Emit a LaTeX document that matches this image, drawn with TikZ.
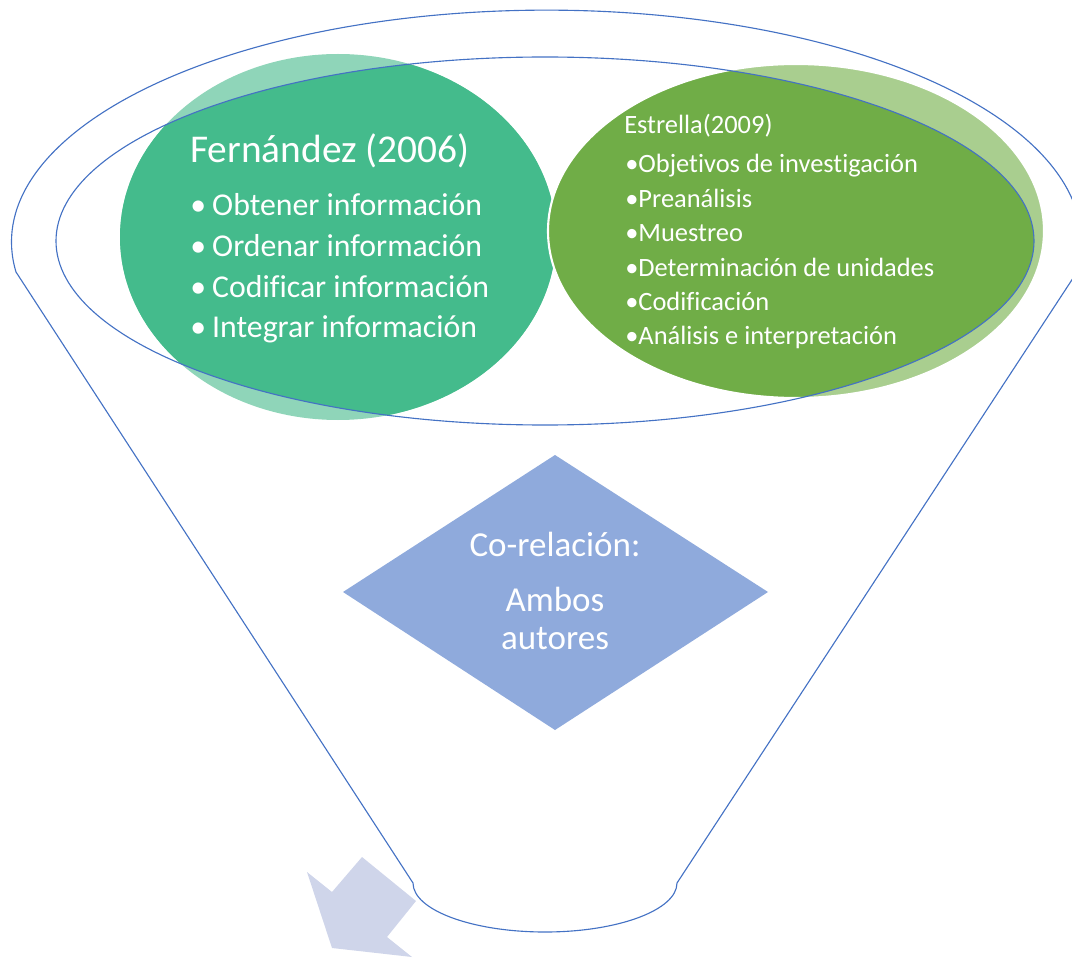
\documentclass[tikz,border=0pt]{standalone}
\usepackage{fontspec}
\setmainfont[Ligatures=NoCommon]{Carlito}
\definecolor{tealdark}{RGB}{68,187,140}
\definecolor{teallight}{RGB}{143,213,185}
\definecolor{greendark}{RGB}{112,173,71}
\definecolor{greenlight}{RGB}{169,206,143}
\definecolor{diamondblue}{RGB}{143,170,220}
\definecolor{arrowblue}{RGB}{207,213,234}
\definecolor{lineblue}{RGB}{68,114,196}
\begin{document}
\begin{tikzpicture}[x=0.025cm, y=-0.025cm,
	funnel/.style={draw=lineblue, line width=0.8pt},
	author/.style={anchor=base west, inner sep=0, text=white, font=\fontsize{28}{34}\selectfont},
	leftitem/.style={anchor=base west, inner sep=0, text=white, font=\fontsize{22.6}{27}\selectfont},
	rightitem/.style={anchor=base west, inner sep=0, text=white, font=\fontsize{18.8}{23}\selectfont},
	middle/.style={anchor=base, inner sep=0, text=white, font=\fontsize{24.9}{30}\selectfont}]
	\useasboundingbox (0,0) rectangle (1072,958);
	% Fernandez
	\fill[teallight] (338,237) ellipse [x radius=218, y radius=183];
	\begin{scope}
		\clip (545,241) ellipse [x radius=489, y radius=184];
		\fill[tealdark] (338,237) ellipse [x radius=218, y radius=183];
	\end{scope}
	% Estrella
	\fill[greenlight] (796,231) ellipse [x radius=248, y radius=167];
	\begin{scope}
		\clip (545,241) ellipse [x radius=489, y radius=184];
		\fill[greendark] (796,231) ellipse [x radius=248, y radius=167];
	\end{scope}
	\draw[white, line width=1.5pt] (796,231) ellipse [x radius=248, y radius=167];
	% funnel
	\draw[funnel] (545,241) ellipse [x radius=489, y radius=184];
	\draw[funnel] (16,272) arc[start angle=172.6, end angle=367.4, x radius=535, y radius=232]
		-- (677,883) arc[start angle=0, end angle=180, x radius=132, y radius=49] -- cycle;
	% co-relacion
	\fill[diamondblue] (555,455) -- (768,592) -- (555,730) -- (343,592) -- cycle;
	\fill[arrowblue] (307,872) -- (332,892) -- (362,857) -- (416,901) -- (387,937) -- (412,957) -- (332,948) -- cycle;

	\node[author] (F) at (190,163) {Fernández (2006)};
	\node[leftitem] (F1) at (190,216) {\makebox[15.6pt][l]{•}Obtener información};
	\node[leftitem] (F2) at (190,257) {\makebox[15.6pt][l]{•}Ordenar información};
	\node[leftitem] (F3) at (190,298) {\makebox[15.6pt][l]{•}Codificar información};
	\node[leftitem] (F4) at (190,338) {\makebox[15.6pt][l]{•}Integrar información};

	\node[rightitem] (E) at (624,134) {Estrella(2009)};
	\node[rightitem] (E1) at (625,173) {•Objetivos de investigación};
	\node[rightitem] (E2) at (625,208) {•Preanálisis};
	\node[rightitem] (E3) at (625,242) {•Muestreo};
	\node[rightitem] (E4) at (625,277) {•Determinación de unidades};
	\node[rightitem] (E5) at (625,311) {•Codificación};
	\node[rightitem] (E6) at (625,345) {•Análisis e interpretación};

	\node[middle] (C) at (555,556) {Co-relación:};
	\node[middle] (A1) at (555,611) {Ambos};
	\node[middle] (A2) at (555,649) {autores};
\end{tikzpicture}
\end{document}
